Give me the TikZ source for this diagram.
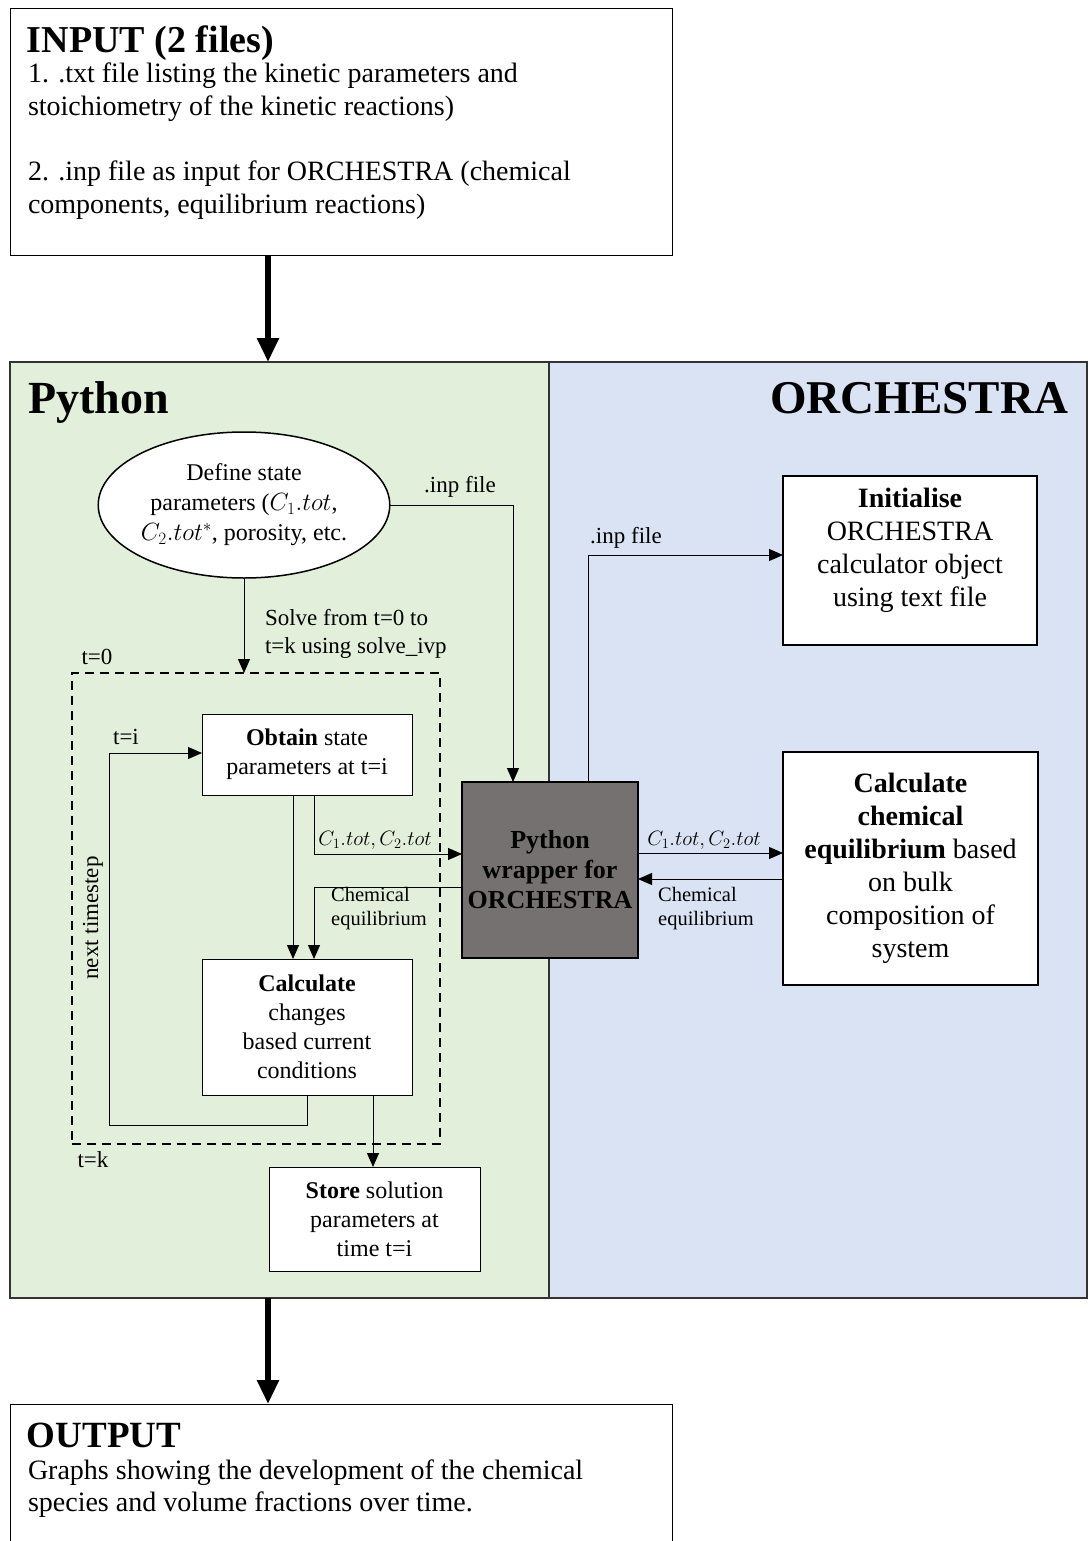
\documentclass[tikz,border=0pt]{standalone}
\usepackage{fontspec}
\setmainfont{Liberation Serif}
\usetikzlibrary{arrows.meta,shapes.geometric}
\definecolor{pygreen}{HTML}{E2EFDA}
\definecolor{orblue}{HTML}{DAE3F3}
\definecolor{wrapgray}{HTML}{767171}
\begin{document}
\begin{tikzpicture}[x=1pt,y=-1pt,
  every node/.style={inner sep=0pt, outer sep=0pt},
  panel/.style={draw=black!80, line width=1.3pt, anchor=north west},
  box/.style={draw=black, fill=white, line width=1pt, align=center},
  thickbox/.style={draw=black, fill=white, line width=2pt, align=center},
  conn/.style={line width=1pt, -{Triangle[length=14pt,width=12pt]}},
  bigarrow/.style={line width=5.5pt, -{Triangle[length=24pt,width=21pt]}},
  lbl/.style={font=\fontsize{23}{28}\selectfont, align=left},
  small/.style={font=\fontsize{20.5}{24}\selectfont, align=left},
  mathlbl/.style={font=\fontsize{19.5}{22}\selectfont},
  body/.style={font=\fontsize{28}{33}\selectfont, anchor=base west},
  boxtext/.style={font=\fontsize{24}{29}\selectfont},
  bigtext/.style={font=\fontsize{28}{33}\selectfont},
]
\useasboundingbox (0,0) rectangle (1088,1541);

% panels
\node[panel, fill=pygreen, minimum width=539pt, minimum height=936pt] (pypanel) at (10,362) {};
\node[panel, fill=orblue, minimum width=538pt, minimum height=936pt] (orpanel) at (549,362) {};
\node[anchor=base west, font=\fontsize{46}{50}\selectfont\bfseries] (pytitle) at (28,413) {Python};
\node[anchor=base east, font=\fontsize{47}{50}\selectfont\bfseries] (ortitle) at (1068,413) {ORCHESTRA};

% input box
\node[draw, fill=white, line width=1pt, minimum width=662pt, minimum height=246pt, anchor=north west] (input) at (10,9) {};
\node[anchor=base west, font=\fontsize{38}{40}\selectfont\bfseries] (intitle) at (27,53) {INPUT (2 files)};
\node[body] (in1) at (28,83) {1. .txt file listing the kinetic parameters and};
\node[body] (in2) at (28,116) {stoichiometry of the kinetic reactions)};
\node[body] (in3) at (28,181) {2. .inp file as input for ORCHESTRA (chemical};
\node[body] (in4) at (28,214) {components, equilibrium reactions)};

% output box
\node[draw, fill=white, line width=1pt, minimum width=662pt, minimum height=160pt, anchor=north west] (output) at (10,1404) {};
\node[anchor=base west, font=\fontsize{37}{40}\selectfont\bfseries] (outtitle) at (27,1447) {OUTPUT};
\node[body] (out1) at (28,1479) {Graphs showing the development of the chemical};
\node[body] (out2) at (28,1511) {species and volume fractions over time.};

% big arrows
\coordinate (bx) at (268,0);
\draw[bigarrow] (input.south -| bx) -- (pypanel.north -| bx);
\draw[bigarrow] (pypanel.south -| bx) -- (output.north -| bx);

% python side
\node[draw, fill=white, ellipse, line width=1.5pt, minimum width=273pt, minimum height=146pt, align=center, font=\fontsize{24}{30}\selectfont] (define) at (244,505) {Define state\\parameters ($C_1.tot$,\\$C_2.tot^*$, porosity, etc.};

\node[draw, dashed, line width=2pt, dash pattern=on 9pt off 6pt, minimum width=368pt, minimum height=471pt, anchor=north west] (loopbox) at (71.5,673) {};

\node[box, boxtext, minimum width=210pt, minimum height=81pt] (obtain) at (307,754.5) {\textbf{Obtain} state\\parameters at t=i};
\node[box, boxtext, minimum width=210pt, minimum height=136pt] (calc) at (307,1027) {\textbf{Calculate}\\changes\\based current\\conditions};
\node[box, boxtext, minimum width=211pt, minimum height=104pt] (store) at (374.5,1219) {\textbf{Store} solution\\parameters at\\time t=i};

\node[draw=black, fill=wrapgray, line width=2pt, minimum width=176pt, minimum height=176pt, align=center, font=\fontsize{26}{30}\selectfont\bfseries] (wrap) at (550,870) {Python\\wrapper for\\ORCHESTRA};

% orchestra side
\node[thickbox, minimum width=254pt, minimum height=169pt] (init) at (910,560.5) {};
\node[bigtext, align=center] (inittext) at (910,550) {\textbf{Initialise}\\ORCHESTRA\\calculator object\\using text file};
\node[thickbox, bigtext, minimum width=255pt, minimum height=233pt] (calceq) at (910.5,868) {\textbf{Calculate}\\\textbf{chemical}\\\textbf{equilibrium} based\\on bulk\\composition of\\system};

% connectors
\draw[conn] (define.south) -- (define.south |- loopbox.north);
\node[lbl, anchor=west] (solvelbl) at (265,634) {Solve from t=0 to\\t=k using solve\_ivp};
\node[lbl] (t0) at (97,657) {t=0};

\coordinate (inpx) at (513,0);
\draw[conn] (define.east) -| (wrap.north -| inpx);
\node[lbl] (inplbl1) at (460,487) {.inp file};

\coordinate (inp2x) at (588,0);
\draw[conn] (wrap.north -| inp2x) |- ([yshift=5.5pt]init.west);
\node[lbl] (inplbl2) at (626,538) {.inp file};

\coordinate (ax1) at (293,0);
\coordinate (ax2) at (314,0);
\draw[conn] (obtain.south -| ax1) -- (calc.north -| ax1);
\draw[conn] (obtain.south -| ax2) |- ([yshift=16pt]wrap.west);
\draw[conn] ([yshift=-17pt]wrap.west) -| (calc.north -| ax2);
\node[mathlbl] (c1l) at (375,840) {$C_1.tot, C_2.tot$};
\node[small] (cel) at (379,909) {Chemical\\equilibrium};

\draw[conn] ([yshift=17pt]wrap.east) -- ([yshift=17pt]wrap.east -| calceq.west);
\draw[conn] ([yshift=-11pt]calceq.west) -- ([yshift=-11pt]calceq.west -| wrap.east);
\node[mathlbl] (c1r) at (704,840) {$C_1.tot, C_2.tot$};
\node[small] (cer) at (706,909) {Chemical\\equilibrium};

\coordinate (lx) at (109,1125);
\draw[conn] (calc.south) |- (lx) |- ([yshift=1.5pt]obtain.west);
\node[lbl] (ti) at (126,737) {t=i};
\node[lbl, rotate=90] (nts) at (93,918) {next timestep};

\coordinate (sx) at (373,0);
\draw[conn] (calc.south -| sx) -- (store.north -| sx);
\node[lbl] (tk) at (93,1160) {t=k};
\end{tikzpicture}
\end{document}
